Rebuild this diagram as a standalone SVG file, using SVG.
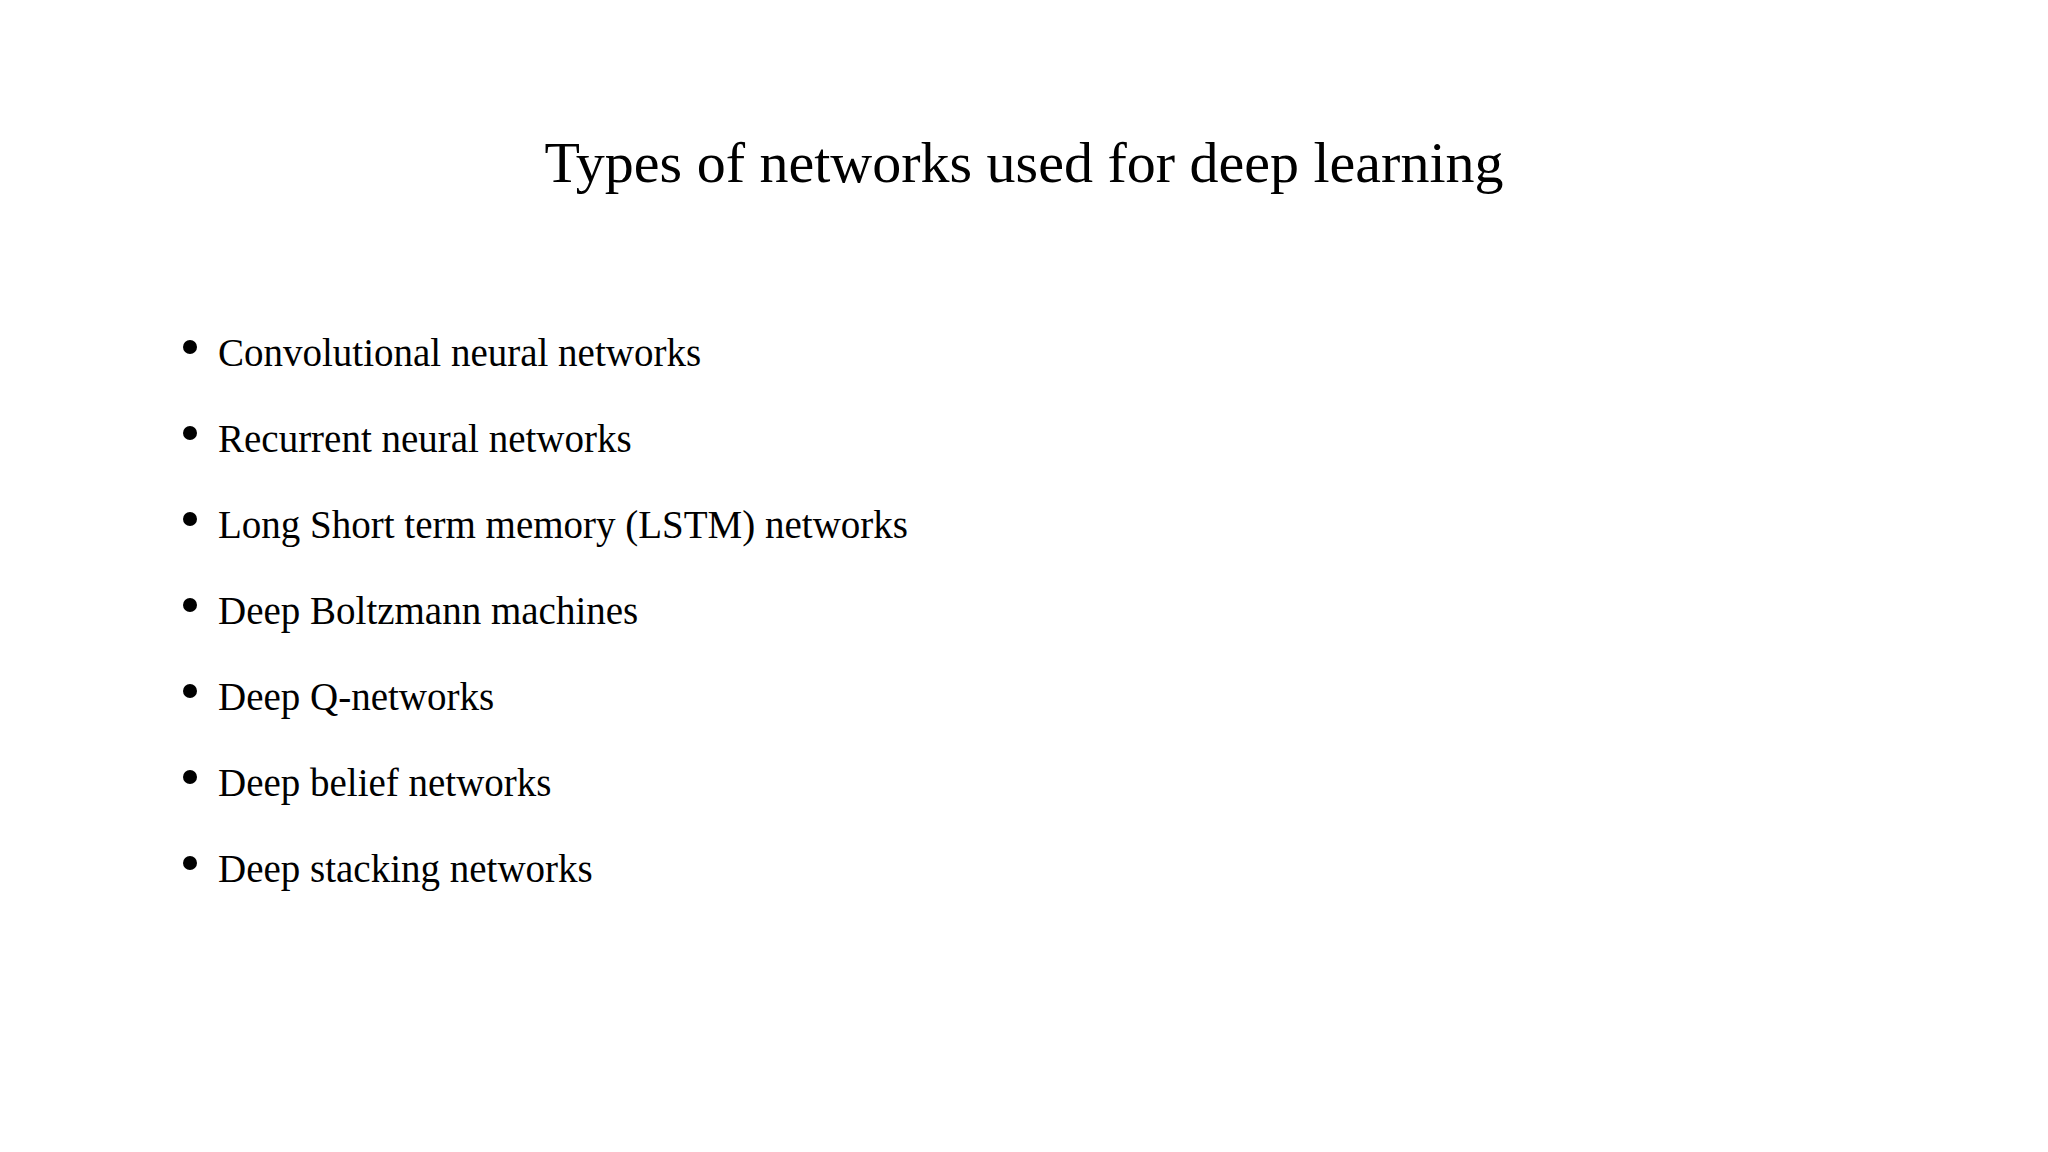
<svg xmlns="http://www.w3.org/2000/svg" width="2048" height="1152" viewBox="0 0 2048 1152">
<style>
.t{font-family:"Liberation Serif",serif;fill:#000}
.b{font-size:39px}
</style>
<rect width="2048" height="1152" fill="#fff"/>
<g id="title"><text class="t" x="1024" y="182" font-size="58" text-anchor="middle">Types of networks used for deep learning</text></g>
<g id="list" fill="#000">
<circle cx="190" cy="347" r="7"/><text class="t b" x="218" y="366">Convolutional neural networks</text>
<circle cx="190" cy="433" r="7"/><text class="t b" x="218" y="452">Recurrent neural networks</text>
<circle cx="190" cy="519" r="7"/><text class="t b" x="218" y="538">Long Short term memory (LSTM) networks</text>
<circle cx="190" cy="605" r="7"/><text class="t b" x="218" y="624">Deep Boltzmann machines</text>
<circle cx="190" cy="691" r="7"/><text class="t b" x="218" y="710">Deep Q-networks</text>
<circle cx="190" cy="777" r="7"/><text class="t b" x="218" y="796">Deep belief networks</text>
<circle cx="190" cy="863" r="7"/><text class="t b" x="218" y="882">Deep stacking networks</text>
</g>
</svg>
